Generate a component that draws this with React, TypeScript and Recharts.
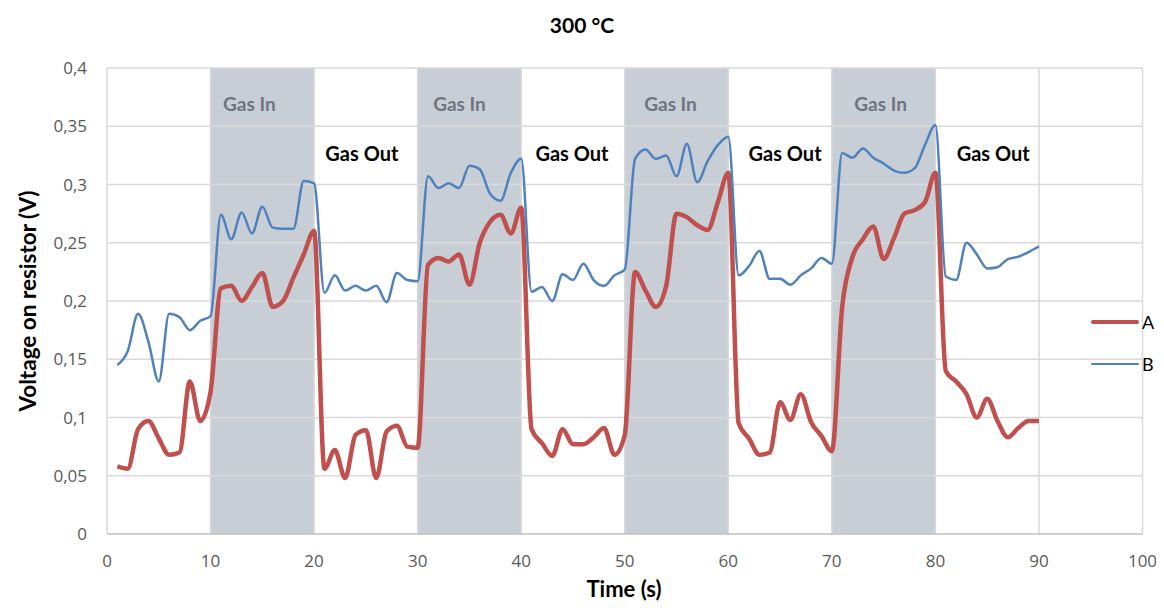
import React from 'react';
import { LineChart, Line, XAxis, YAxis, ReferenceArea, ReferenceLine } from 'recharts';

const times = [
  1, 2, 3, 4, 5, 6, 7, 8, 9, 10,
  11, 12, 13, 14, 15, 16, 17, 18, 19, 20,
  21, 22, 23, 24, 25, 26, 27, 28, 29, 30,
  31, 32, 33, 34, 35, 36, 37, 38, 39, 40,
  41, 42, 43, 44, 45, 46, 47, 48, 49, 50,
  51, 52, 53, 54, 55, 56, 57, 58, 59, 60,
  61, 62, 63, 64, 65, 66, 67, 68, 69, 70,
  71, 72, 73, 74, 75, 76, 77, 78, 79, 80,
  81, 82, 83, 84, 85, 86, 87, 88, 89, 90,
];

const seriesA = [
  0.058, 0.056, 0.09, 0.097, 0.082, 0.068, 0.07, 0.131, 0.097, 0.122,
  0.211, 0.213, 0.2, 0.212, 0.224, 0.195, 0.2, 0.22, 0.24, 0.26,
  0.056, 0.072, 0.048, 0.085, 0.089, 0.048, 0.088, 0.093, 0.075, 0.074,
  0.231, 0.237, 0.234, 0.24, 0.214, 0.25, 0.268, 0.274, 0.258, 0.28,
  0.09, 0.078, 0.067, 0.09, 0.077, 0.077, 0.083, 0.091, 0.068, 0.085,
  0.225, 0.209, 0.195, 0.213, 0.275, 0.272, 0.265, 0.261, 0.285, 0.31,
  0.095, 0.082, 0.068, 0.07, 0.113, 0.098, 0.12, 0.096, 0.084, 0.071,
  0.195, 0.238, 0.253, 0.264, 0.236, 0.254, 0.275, 0.278, 0.285, 0.31,
  0.14, 0.131, 0.12, 0.1, 0.116, 0.097, 0.083, 0.091, 0.097, 0.097,
];

const seriesB = [
  0.145, 0.157, 0.189, 0.165, 0.131, 0.189, 0.186, 0.175, 0.183, 0.187,
  0.274, 0.253, 0.276, 0.258, 0.281, 0.263, 0.262, 0.262, 0.303, 0.301,
  0.207, 0.222, 0.209, 0.213, 0.209, 0.213, 0.199, 0.224, 0.218, 0.217,
  0.307, 0.297, 0.301, 0.297, 0.316, 0.313, 0.292, 0.286, 0.31, 0.322,
  0.208, 0.212, 0.2, 0.223, 0.218, 0.232, 0.218, 0.213, 0.222, 0.227,
  0.322, 0.33, 0.322, 0.325, 0.307, 0.335, 0.302, 0.32, 0.334, 0.341,
  0.222, 0.23, 0.243, 0.219, 0.219, 0.214, 0.222, 0.228, 0.237, 0.232,
  0.327, 0.323, 0.331, 0.323, 0.318, 0.312, 0.31, 0.314, 0.334, 0.351,
  0.221, 0.218, 0.25, 0.24, 0.228, 0.229, 0.236, 0.238, 0.242, 0.247,
];

const seriesNames = ['A', 'B'];

const xTicks = [0, 10, 20, 30, 40, 50, 60, 70, 80, 90, 100];
const yTicks = [0, 0.05, 0.1, 0.15, 0.2, 0.25, 0.3, 0.35, 0.4];
const gasInStarts = [10, 30, 50, 70];
const gasOutStarts = [20, 40, 60, 80];
const bandWidth = 10;

const title = '300 °C';
const xTitle = 'Time (s)';
const yTitle = 'Voltage on resistor (V)';
const gasInText = 'Gas In';
const gasOutText = 'Gas Out';

const data = times.map((t, i) => ({ t, A: seriesA[i], B: seriesB[i] }));

const FONT = 'Lato, "Open Sans", sans-serif';
const TICKFONT = '"Open Sans", Lato, sans-serif';
const GRID = '#D9D9D9';
const BAND = '#C8CED6';

const seriesStyle: Record<string, { color: string; width: number }> = {
  A: { color: '#C0504D', width: 4.5 },
  B: { color: '#4F81BD', width: 2.5 },
};

const gasInDx = [-13, -10, -6, -3];
const gasOutDx = [-4, -1, 5, 6];

const fmt = (v: number) => String(v).replace('.', ',');

const YLabel = () => {
  const cy = 293;
  const cx = 19;
  return (
    <text
      x={cx}
      y={cy}
      transform={`rotate(-90, ${cx}, ${cy})`}
      textAnchor="middle"
      dominantBaseline="central"
      fontFamily={FONT}
      fontWeight="bold"
      fontSize={22.5}
      fill="#000"
    >
      {yTitle}
    </text>
  );
};

const makeBandLabel = (text: string, dx: number, yOff: number, color: string, size: number) => (props: any) => {
  const vb = props.viewBox || {};
  return (
    <text
      x={vb.x + vb.width / 2 + dx}
      y={vb.y + yOff}
      textAnchor="middle"
      dominantBaseline="central"
      fontFamily={FONT}
      fontWeight="bold"
      fontSize={size}
      fill={color}
    >
      {text}
    </text>
  );
};

export default function App() {
  return (
    <div style={{ position: 'relative', width: 1148, height: 594, background: '#fff' }}>
      <div
        style={{
          position: 'absolute',
          left: 474,
          top: 4,
          width: 200,
          textAlign: 'center',
          fontFamily: FONT,
          fontWeight: 'bold',
          fontSize: 21,
          lineHeight: '26px',
          color: '#000',
        }}
      >
        {title}
      </div>
      <LineChart width={1148} height={594} data={data} margin={{ top: 60, right: 13.5, bottom: 8, left: 0 }}>
        {gasInStarts.map((s, i) => (
          <ReferenceArea
            key={`in${i}`}
            x1={s}
            x2={s + bandWidth}
            y1={0}
            y2={0.4}
            fill={BAND}
            fillOpacity={1}
            stroke="none"
            zIndex={-20}
            label={makeBandLabel(gasInText, gasInDx[i], 35, '#6E7580', 19)}
          />
        ))}
        {gasOutStarts.map((s, i) => (
          <ReferenceArea
            key={`out${i}`}
            x1={s}
            x2={s + bandWidth}
            y1={0}
            y2={0.4}
            fill="#fff"
            fillOpacity={0}
            stroke="none"
            zIndex={-20}
            label={makeBandLabel(gasOutText, gasOutDx[i], 84.5, '#000', 20)}
          />
        ))}
        {yTicks.slice(1).map((v) => (
          <ReferenceLine key={`gy${v}`} y={v} stroke={GRID} strokeWidth={1.5} zIndex={-10} />
        ))}
        {xTicks.slice(1).map((v) => (
          <ReferenceLine key={`gx${v}`} x={v} stroke={GRID} strokeWidth={1.5} zIndex={-10} />
        ))}
        <XAxis
          dataKey="t"
          type="number"
          domain={[0, 100]}
          ticks={xTicks}
          interval={0}
          height={60}
          tickLine={false}
          tickSize={0}
          tickMargin={21}
          axisLine={{ stroke: '#BFBFBF', strokeWidth: 1.5 }}
          tick={{ fill: '#595959', fontSize: 17, fontFamily: TICKFONT }}
        />
        <YAxis
          type="number"
          domain={[0, 0.4]}
          ticks={yTicks}
          interval={0}
          width={99}
          tickLine={false}
          tickSize={0}
          tickMargin={20}
          tickFormatter={fmt}
          axisLine={{ stroke: GRID, strokeWidth: 1.5 }}
          tick={{ fill: '#595959', fontSize: 17, fontFamily: TICKFONT }}
          label={<YLabel />}
        />
        {seriesNames.map((n) => (
          <Line
            key={n}
            type="monotone"
            dataKey={n}
            name={n}
            stroke={seriesStyle[n].color}
            strokeWidth={seriesStyle[n].width}
            dot={false}
            activeDot={false}
            isAnimationActive={false}
          />
        ))}
      </LineChart>
      <div
        style={{
          position: 'absolute',
          left: 516,
          top: 569,
          width: 200,
          height: 24,
          textAlign: 'center',
          fontFamily: FONT,
          fontWeight: 'bold',
          fontSize: 22,
          lineHeight: '24px',
          color: '#000',
        }}
      >
        {xTitle}
      </div>
      <div style={{ position: 'absolute', left: 1083, top: 293, width: 64, fontFamily: FONT }}>
        {seriesNames.map((n) => (
          <div key={n} style={{ display: 'flex', alignItems: 'center', height: 42 }}>
            <div
              style={{
                width: 48,
                height: seriesStyle[n].width,
                background: seriesStyle[n].color,
                borderRadius: 2,
                flexShrink: 0,
              }}
            />
            <span style={{ marginLeft: 3, fontSize: 18, color: '#000' }}>{n}</span>
          </div>
        ))}
      </div>
    </div>
  );
}
